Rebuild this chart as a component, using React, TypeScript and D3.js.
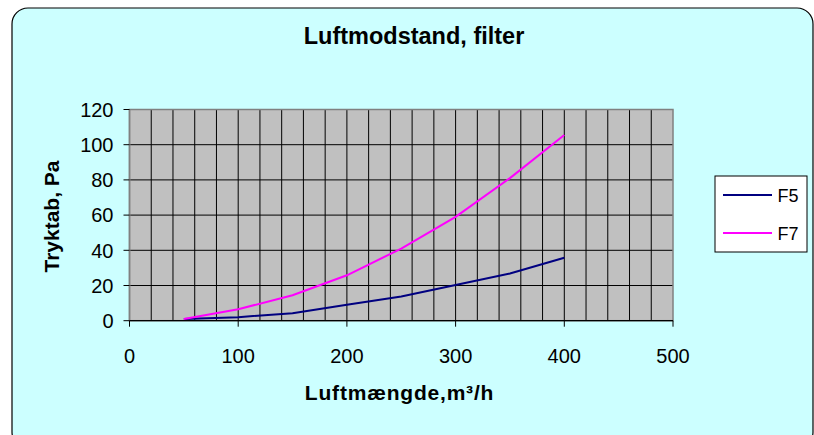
import React from "react";
import * as d3 from "d3";

const flows = [50, 100, 150, 200, 250, 300, 350, 400];
const f5 = [1, 2, 4.3, 9, 13.8, 20.3, 26.8, 35.8];
const f7 = [1, 6.5, 14.5, 25.8, 41, 59, 81, 105.5];
const seriesNames = ["F5", "F7"];
const seriesColors = ["#000080", "#FF00FF"];
const xTicks = [0, 100, 200, 300, 400, 500];
const yTicks = [0, 20, 40, 60, 80, 100, 120];

const W = 814, H = 435;
const L = 129.5, R = 673, T = 109.5, B = 320.7;
const font = "'Liberation Sans', Arial, sans-serif";

export default function App() {
  const x = d3.scaleLinear().domain([0, 500]).range([L, R]);
  const y = d3.scaleLinear().domain([0, 120]).range([B, T]);
  const line = d3.line<number>().x((_, i) => x(flows[i])).y((d) => y(d));
  const vGrid = d3.range(20, 500, 20);
  const hGrid = d3.range(20, 120, 20);
  const series = [f5, f7];
  return (
    <svg width={W} height={H} style={{ position: "absolute", left: 0, top: 0 }}>
      <rect x={0} y={0} width={W} height={H} fill="#fff" />
      <rect x={12} y={8} width={801} height={440} rx={16} ry={16} fill="#CCFFFF" stroke="#000" strokeWidth={1.2} />
      <text x={414} y={44} textAnchor="middle" fontFamily={font} fontWeight="bold" fontSize={23.5}>
        Luftmodstand, filter
      </text>
      <rect x={L} y={T} width={R - L} height={B - T} fill="#C0C0C0" />
      {vGrid.map((v) => (
        <line key={"v" + v} x1={x(v)} x2={x(v)} y1={T} y2={B} stroke="#000" strokeWidth={1} />
      ))}
      {hGrid.map((v) => (
        <line key={"h" + v} x1={L} x2={R} y1={y(v)} y2={y(v)} stroke="#000" strokeWidth={1} />
      ))}
      <rect x={L} y={T} width={R - L} height={B - T} fill="none" stroke="#808080" strokeWidth={1.5} />
      <line x1={L} x2={L} y1={T} y2={B} stroke="#808080" strokeWidth={1.5} />
      <line x1={L} x2={R} y1={B} y2={B} stroke="#000" strokeWidth={1.2} />
      {yTicks.map((v) => (
        <g key={"yt" + v}>
          <line x1={L - 6} x2={L} y1={y(v)} y2={y(v)} stroke="#000" />
          <text x={113.5} y={y(v) + 7.3} textAnchor="end" fontFamily={font} fontSize={20}>
            {v}
          </text>
        </g>
      ))}
      {xTicks.map((v) => (
        <g key={"xt" + v}>
          <line x1={x(v)} x2={x(v)} y1={B} y2={B + 6} stroke="#000" />
          <text x={x(v)} y={363} textAnchor="middle" fontFamily={font} fontSize={20}>
            {v}
          </text>
        </g>
      ))}
      {series.map((s, i) => (
        <path key={"s" + i} d={line(s) || ""} fill="none" stroke={seriesColors[i]} strokeWidth={2} />
      ))}
      <text
        transform={`translate(59,216.5) rotate(-90)`}
        textAnchor="middle"
        fontFamily={font}
        fontWeight="bold"
        fontSize={21}
      >
        Tryktab, Pa
      </text>
      <text x={399.5} y={400} textAnchor="middle" fontFamily={font} fontWeight="bold" fontSize={21} letterSpacing={0.8}>
        Luftmængde,m³/h
      </text>
      <rect x={715} y={176} width={92} height={76} fill="#fff" stroke="#000" strokeWidth={1} />
      {seriesNames.map((n, i) => (
        <g key={n}>
          <line x1={723} x2={772} y1={195 + i * 38} y2={195 + i * 38} stroke={seriesColors[i]} strokeWidth={2} />
          <text x={777.5} y={202 + i * 38} fontFamily={font} fontSize={18}>
            {n}
          </text>
        </g>
      ))}
    </svg>
  );
}
